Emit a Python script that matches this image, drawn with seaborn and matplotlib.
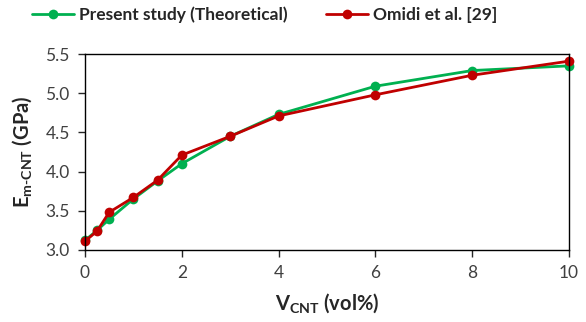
import matplotlib
matplotlib.use("Agg")
import matplotlib.pyplot as plt
import seaborn as sns
import pandas as pd

v_cnt = [0, 0.25, 0.5, 1, 1.5, 2, 3, 4, 6, 8, 10]
present = [3.12, 3.25, 3.39, 3.65, 3.88, 4.10, 4.45, 4.73, 5.09, 5.29, 5.35]
omidi = [3.11, 3.24, 3.48, 3.67, 3.89, 4.21, 4.45, 4.71, 4.98, 5.23, 5.41]
series_names = ["Present study (Theoretical)", "Omidi et al. [29]"]
xticks = [0, 2, 4, 6, 8, 10]
yticks = [3.0, 3.5, 4.0, 4.5, 5.0, 5.5]

sns.set_style("white")
plt.rcParams['font.family'] = ['Lato', 'DejaVu Sans']
plt.rcParams['mathtext.fontset'] = 'custom'
plt.rcParams['mathtext.rm'] = 'Lato:bold'
plt.rcParams['mathtext.it'] = 'Lato:bold'
plt.rcParams['mathtext.bf'] = 'Lato:bold'

df = pd.DataFrame({
    "V": v_cnt * 2,
    "E": present + omidi,
    "Series": [series_names[0]] * len(v_cnt) + [series_names[1]] * len(v_cnt),
})

fig = plt.figure(figsize=(5.86, 3.22), dpi=100)
ax = fig.add_axes([0.145, 0.224, 0.826, 0.608])
palette = {series_names[0]: "#00b050", series_names[1]: "#c00000"}
sns.lineplot(data=df, x="V", y="E", hue="Series", palette=palette, marker="o",
             markersize=7, markeredgewidth=0, linewidth=2, ax=ax, sort=False,
             clip_on=False)

ax.set_xlim(0, 10)
ax.set_ylim(3.0, 5.5)
ax.set_xticks(xticks)
ax.set_xticklabels([str(t) for t in xticks])
ax.set_yticks(yticks)
ax.set_yticklabels([f"{t:.1f}" for t in yticks])
ax.tick_params(axis="both", direction="out", length=5, width=1, colors="#262626",
               labelsize=12.5, labelcolor="#404040", bottom=True, left=True, pad=6)
for s in ax.spines.values():
    s.set_color("#000000")
    s.set_linewidth(1)

ax.set_xlabel(r"V$_{\mathrm{CNT}}$ (vol%)", fontsize=14.5, fontweight="bold", labelpad=7)
ax.set_ylabel(r"E$_{\mathrm{m\text{-}CNT}}$ (GPa)", fontsize=14.5, fontweight="bold", labelpad=8)

handles, labels = ax.get_legend_handles_labels()
ax.get_legend().remove()
fig.legend(handles, labels, loc="center", bbox_to_anchor=(0.452, 0.953), ncol=2,
           frameon=False, handlelength=2.4, columnspacing=2.2, handletextpad=0.3,
           prop={'weight': 'bold', 'size': 12.5})

fig.savefig("out.png", dpi=100)
